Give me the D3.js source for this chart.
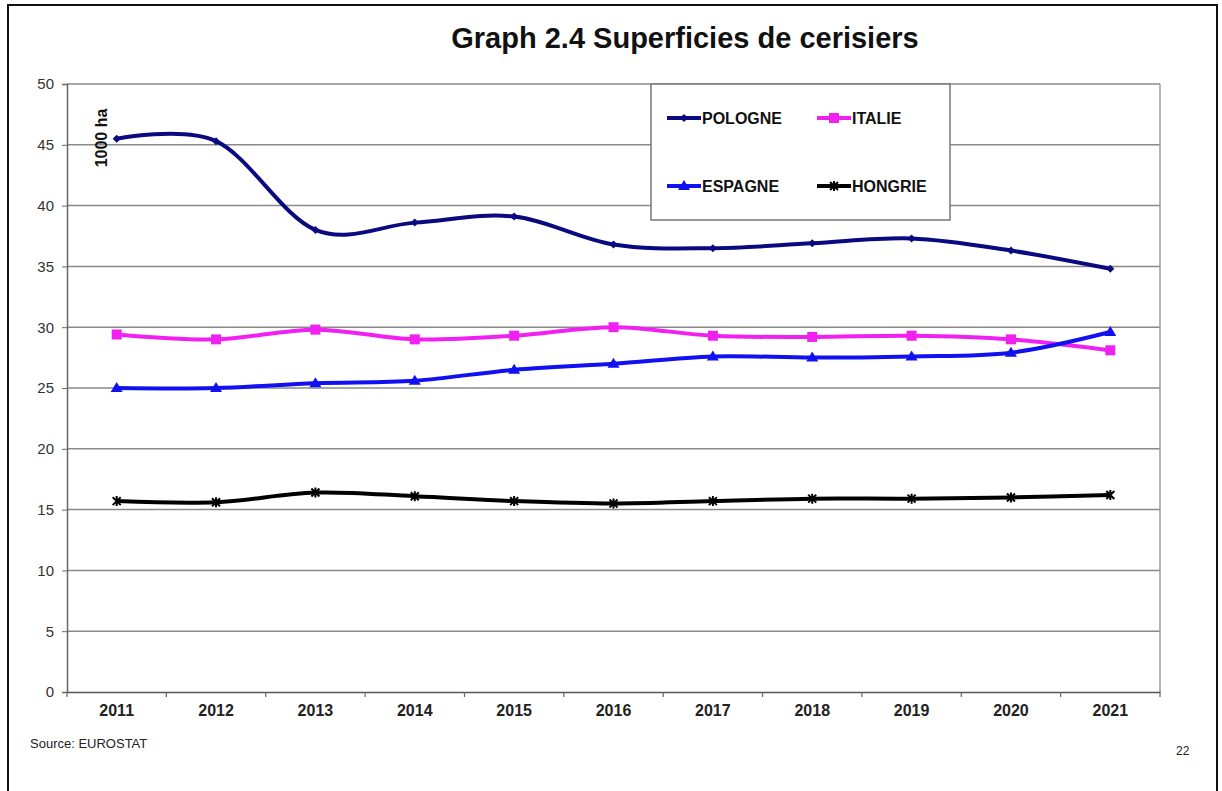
<!DOCTYPE html>
<html><head><meta charset="utf-8">
<script src="https://cdn.jsdelivr.net/npm/d3@7"></script>
<style>body{margin:0;background:#fff;}svg{display:block;font-family:"Liberation Sans",Arial,sans-serif;}</style>
</head><body><svg id="c" width="1222" height="791"></svg>
<script>
const years = ["2011","2012","2013","2014","2015","2016","2017","2018","2019","2020","2021"];
const pologne = [45.5,45.3,38.0,38.6,39.1,36.8,36.5,36.9,37.3,36.3,34.8];
const italie  = [29.4,29.0,29.8,29.0,29.3,30.0,29.3,29.2,29.3,29.0,28.1];
const espagne = [25.0,25.0,25.4,25.6,26.5,27.0,27.6,27.5,27.6,27.9,29.6];
const hongrie = [15.7,15.6,16.4,16.1,15.7,15.5,15.7,15.9,15.9,16.0,16.2];
const yTicks = [0,5,10,15,20,25,30,35,40,45,50];
const seriesNames = ["POLOGNE","ITALIE","ESPAGNE","HONGRIE"];

const svg = d3.select("#c");
const L=67, T=84, R=1160, B=692;
const x = d3.scaleBand().domain(years).range([L,R]);
const y = d3.scaleLinear().domain([0,50]).range([B,T]);

// frame
svg.append("rect").attr("x",8).attr("y",5).attr("width",1209).attr("height",800)
  .attr("fill","none").attr("stroke","#111").attr("stroke-width",2);

// title
svg.append("text").attr("x",685).attr("y",48).attr("text-anchor","middle")
  .attr("font-size",29).attr("font-weight","bold").attr("fill","#111")
  .text("Graph 2.4 Superficies de cerisiers");

// gridlines
svg.append("g").selectAll("line").data(yTicks.filter(d=>d>0)).join("line")
  .attr("x1",L).attr("x2",R).attr("y1",d=>y(d)).attr("y2",d=>y(d))
  .attr("stroke","#8a8a8a").attr("stroke-width",1.5);
svg.append("line").attr("x1",R).attr("x2",R).attr("y1",T).attr("y2",B)
  .attr("stroke","#9a9a9a").attr("stroke-width",1.5);

// y axis
const yAxis = d3.axisLeft(y).tickValues(yTicks).tickSize(5).tickPadding(8);
const gy = svg.append("g").attr("transform",`translate(${L},0)`).call(yAxis);
gy.select(".domain").attr("stroke","#666").attr("stroke-width",1.5);
gy.selectAll(".tick line").attr("stroke","#666");
gy.selectAll(".tick text").attr("font-size",15).attr("fill","#333").attr("font-family","Liberation Sans, Arial, sans-serif");

// x axis
const xAxis = d3.axisBottom(x).tickSize(0).tickPadding(13);
const gx = svg.append("g").attr("transform",`translate(0,${B})`).call(xAxis);
gx.select(".domain").attr("stroke","#555").attr("stroke-width",1.5);
gx.selectAll(".tick text").attr("font-size",16).attr("font-weight","bold").attr("fill","#222").attr("font-family","Liberation Sans, Arial, sans-serif");
const bounds = years.map(d=>x(d)).concat([R]);
svg.append("g").selectAll("line").data(bounds).join("line")
  .attr("x1",d=>d).attr("x2",d=>d).attr("y1",B).attr("y2",B+5)
  .attr("stroke","#666").attr("stroke-width",1.2);

// unit label
svg.append("text").attr("transform",`translate(107,138) rotate(-90)`).attr("text-anchor","middle")
  .attr("font-size",16).attr("font-weight","bold").attr("fill","#111").text("1000 ha");

const cx = d=>x(d)+x.bandwidth()/2;
const data = [
  {name:seriesNames[0], vals:pologne, color:"#0a0a80", marker:"diamond"},
  {name:seriesNames[1], vals:italie, color:"#f020f0", marker:"square"},
  {name:seriesNames[2], vals:espagne, color:"#1010f0", marker:"triangle"},
  {name:seriesNames[3], vals:hongrie, color:"#000000", marker:"x"}
];
const line = d3.line().x((d,i)=>cx(years[i])).y(d=>y(d)).curve(d3.curveCardinal.tension(0));

function drawMarker(g, type, px, py, color){
  if(type==="diamond"){
    g.append("path").attr("d",`M${px},${py-4}L${px+4},${py}L${px},${py+4}L${px-4},${py}Z`).attr("fill",color);
  } else if(type==="square"){
    g.append("rect").attr("x",px-5).attr("y",py-5).attr("width",10).attr("height",10).attr("fill",color);
  } else if(type==="triangle"){
    g.append("path").attr("d",`M${px},${py-6}L${px+6},${py+4}L${px-6},${py+4}Z`).attr("fill",color);
  } else {
    g.append("path").attr("d",`M${px-4},${py-4}L${px+4},${py+4}M${px+4},${py-4}L${px-4},${py+4}M${px},${py-5}L${px},${py+5}`)
      .attr("stroke",color).attr("stroke-width",2);
  }
}

data.forEach(s=>{
  svg.append("path").datum(s.vals).attr("d",line).attr("fill","none")
    .attr("stroke",s.color).attr("stroke-width",4).attr("stroke-linejoin","round");
  const g = svg.append("g");
  s.vals.forEach((v,i)=>drawMarker(g,s.marker,cx(years[i]),y(v),s.color));
});

// legend
const lg = svg.append("g");
lg.append("rect").attr("x",651).attr("y",84).attr("width",299).attr("height",136)
  .attr("fill","#fff").attr("stroke","#777").attr("stroke-width",1.5);
const lpos = [[667,118],[817,118],[667,186],[817,186]];
data.forEach((s,i)=>{
  const [lx,ly]=lpos[i];
  lg.append("line").attr("x1",lx).attr("x2",lx+34).attr("y1",ly).attr("y2",ly)
    .attr("stroke",s.color).attr("stroke-width",4);
  drawMarker(lg,s.marker,lx+17,ly,s.color);
  lg.append("text").attr("x",lx+35).attr("y",ly+6).attr("font-size",16).attr("font-weight","bold")
    .attr("fill","#111").text(s.name);
});

// source & page
svg.append("text").attr("x",30).attr("y",748).attr("font-size",13).attr("fill","#222").text("Source: EUROSTAT");
svg.append("text").attr("x",1176).attr("y",755).attr("font-size",12).attr("fill","#222").text("22");
</script></body></html>
